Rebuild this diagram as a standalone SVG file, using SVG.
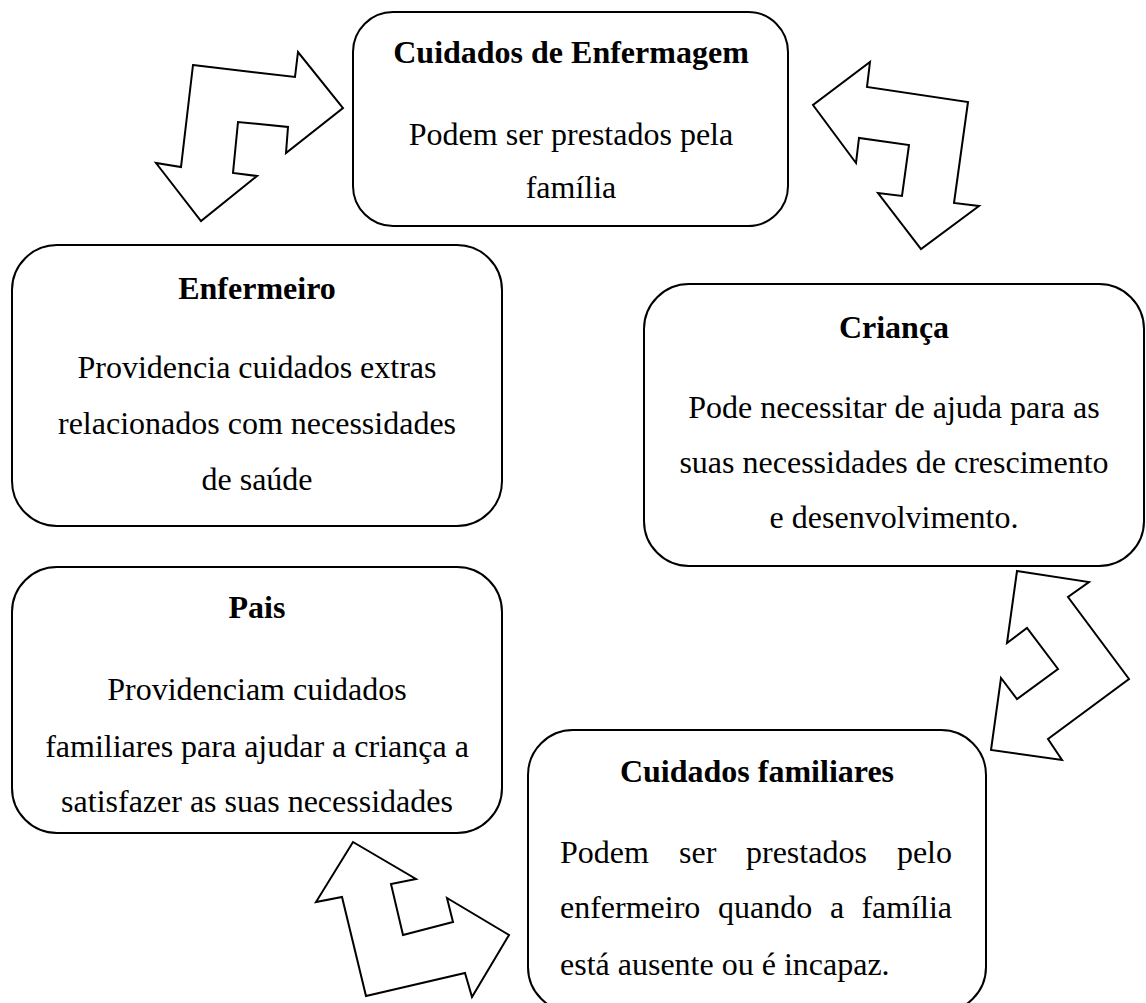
<svg xmlns="http://www.w3.org/2000/svg" width="1146" height="1003" viewBox="0 0 1146 1003">
<style>
.box{fill:#fff;stroke:#000;stroke-width:2}
.arr{fill:#fff;stroke:#000;stroke-width:2;stroke-linejoin:miter}
text{font-family:"Liberation Serif","Times New Roman",serif;font-size:32px;fill:#000}
.t{font-weight:bold;text-anchor:middle}
.c{text-anchor:middle}
.e{text-anchor:end}
</style>
<rect width="1146" height="1003" fill="#fff"/>
<g id="connectors">
<polygon class="arr" points="193,65 295,77 298,52 343,108 286,153 288,127 238,122 233,173 257,176 201,221 156,163 181,167"/>
<polygon class="arr" points="870,62 867,87 968,102 954,203 979,206 921,249 878,193 902,196 909,145 859,138 856,163 813,105"/>
<polygon class="arr" points="1017,571 1089,582 1068,597 1129,679 1048,739 1062,760 991,750 1001,678 1017,699 1058,669 1027,628 1007,643"/>
<polygon class="arr" points="353,842 416,879 391,884 403,935 453,922 447,898 509,935 472,997 465,973 366,996 342,897 316,902"/>
</g>
<g id="node-cuidados-enfermagem">
<rect class="box" x="353" y="12" width="435" height="214" rx="40" ry="40"/>
<text class="t" x="571" y="63">Cuidados de Enfermagem</text>
<text class="c" x="571" y="145">Podem ser prestados pela</text>
<text class="c" x="571" y="198">família</text>
</g>
<g id="node-enfermeiro">
<rect class="box" x="12" y="245" width="490" height="281" rx="45" ry="45"/>
<text class="t" x="257" y="299">Enfermeiro</text>
<text class="c" x="257" y="378">Providencia cuidados extras</text>
<text class="c" x="257" y="434">relacionados com necessidades</text>
<text class="c" x="257" y="490">de saúde</text>
</g>
<g id="node-crianca">
<rect class="box" x="644" y="284" width="500" height="282" rx="45" ry="45"/>
<text class="t" x="894" y="338">Criança</text>
<text class="c" x="894" y="418">Pode necessitar de ajuda para as</text>
<text class="c" x="894" y="473">suas necessidades de crescimento</text>
<text class="c" x="894" y="528">e desenvolvimento.</text>
</g>
<g id="node-pais">
<rect class="box" x="12" y="567" width="490" height="266" rx="45" ry="45"/>
<text class="t" x="257" y="618">Pais</text>
<text class="c" x="257" y="700">Providenciam cuidados</text>
<text class="c" x="257" y="757">familiares para ajudar a criança a</text>
<text class="c" x="257" y="812">satisfazer as suas necessidades</text>
</g>
<g id="node-cuidados-familiares">
<rect class="box" x="528" y="730" width="458" height="282" rx="45" ry="45"/>
<text class="t" x="757" y="782">Cuidados familiares</text>
<text x="560" y="863">Podem</text>
<text x="679" y="863">ser</text>
<text x="746" y="863">prestados</text>
<text class="e" x="952" y="863">pelo</text>
<text x="560" y="918">enfermeiro</text>
<text x="718" y="918">quando</text>
<text x="830" y="918">a</text>
<text class="e" x="952" y="918">família</text>
<text x="560" y="975">está ausente ou é incapaz.</text>
</g>
</svg>
